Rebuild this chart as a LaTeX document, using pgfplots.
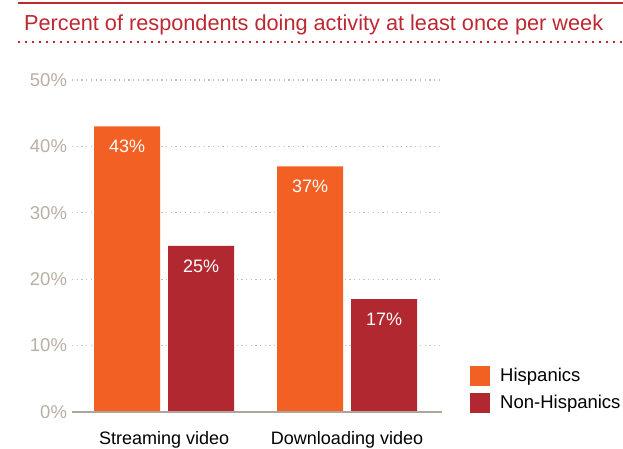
\documentclass[border=0pt]{standalone}
\usepackage{fontspec}
\setmainfont{Liberation Sans}
\usepackage{pgfplots}
\pgfplotsset{compat=1.18}
\definecolor{hisp}{RGB}{242,96,35}
\definecolor{nonhisp}{RGB}{178,40,48}
\definecolor{titlered}{RGB}{190,40,48}
\definecolor{gridgray}{RGB}{200,190,180}
\definecolor{tickgray}{RGB}{185,175,165}
\definecolor{zerogray}{RGB}{175,165,155}
\begin{document}
\begin{tikzpicture}[x=1pt,y=1pt]
\useasboundingbox (0,0) rectangle (623,449);
\draw[titlered, line width=2pt] (18,445.7) -- (623,445.7);
\draw[titlered, line width=1.8pt, dash pattern=on 1.8pt off 5.2pt] (18,407) -- (623,407);
\node[anchor=base west, inner sep=0pt, text=titlered, font=\fontsize{21.7}{26}\selectfont] at (24,418) {Percent of respondents doing activity at least once per week};
\begin{axis}[
  at={(72pt,37pt)}, anchor=south west,
  scale only axis, width=370pt, height=332pt,
  xmin=-0.503, xmax=1.519, ymin=0, ymax=50,
  /pgf/number format/assume math mode=true,
  axis line style={draw=none},
  ybar=8pt, bar width=66pt,
  ytick={0,10,20,30,40,50},
  yticklabels={0\%,10\%,20\%,30\%,40\%,50\%},
  ymajorgrids,
  grid style={gridgray, line width=1.3pt, dash pattern=on 1.3pt off 3.4pt},
  major tick length=0pt,
  xtick={0,1},
  xticklabels={Streaming video, Downloading video},
  tick label style={font=\fontsize{18}{21}\selectfont},
  yticklabel style={text=tickgray, font=\fontsize{18.5}{21}\selectfont, xshift=-1.5pt},
  xticklabel style={anchor=base, yshift=-33pt},
  clip=false,
  nodes near coords={\pgfmathprintnumber{\pgfplotspointmeta}\%},
  nodes near coords style={text=white, anchor=base, yshift=-26pt, font=\fontsize{18}{21}\selectfont},
  legend style={at={(1.0757,0.1386)}, anchor=north west, draw=none, fill=none,
    font=\fontsize{18.5}{21}\selectfont, inner sep=0pt, row sep=7.5pt,
    /tikz/every odd column/.append style={column sep=8pt}},
  legend image code/.code={\fill[#1] (0pt,-9.75pt) rectangle (20pt,9.75pt);},
  legend cell align=left,
]
\addplot[fill=hisp, draw=none] coordinates {(0,43) (1,37)};
\addplot[fill=nonhisp, draw=none] coordinates {(0,25) (1,17)};
\legend{Hispanics, Non-Hispanics}
\draw[zerogray, line width=2.6pt] (axis cs:-0.503,0) -- (axis cs:1.519,0);
\end{axis}
\end{tikzpicture}
\end{document}
